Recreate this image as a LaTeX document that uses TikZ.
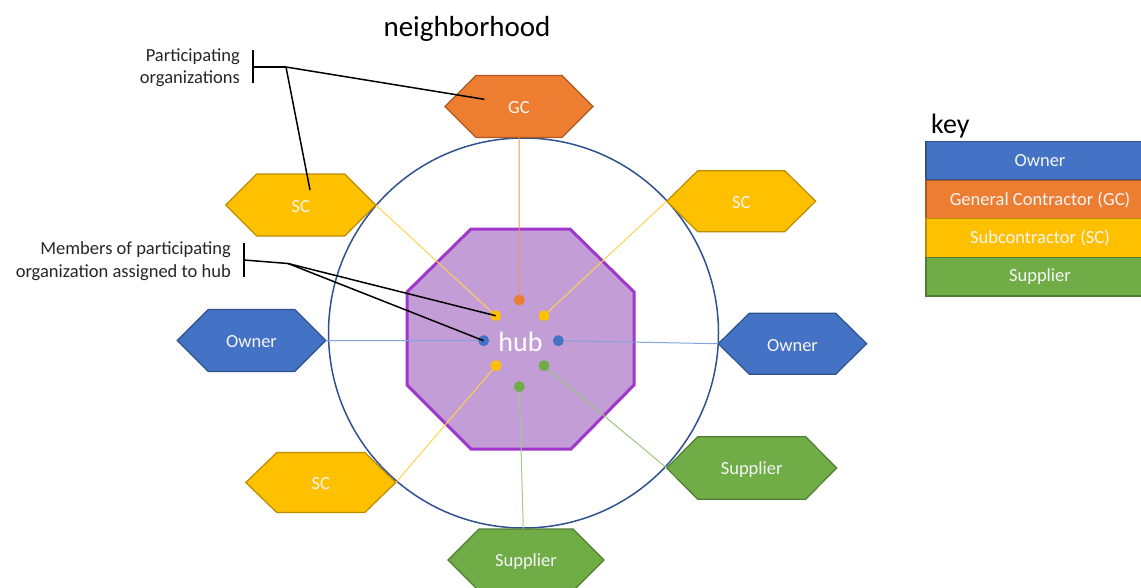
\documentclass[tikz,border=0pt]{standalone}
\usepackage{fontspec}
\setmainfont{Carlito}
\definecolor{ownerfill}{RGB}{68,114,196}
\definecolor{ownerline}{RGB}{47,82,143}
\definecolor{gcfill}{RGB}{237,125,49}
\definecolor{gcline}{RGB}{174,90,33}
\definecolor{scfill}{RGB}{255,192,0}
\definecolor{scline}{RGB}{188,140,0}
\definecolor{supfill}{RGB}{112,173,71}
\definecolor{supline}{RGB}{80,126,50}
\definecolor{hubfill}{RGB}{195,157,213}
\definecolor{hubline}{RGB}{160,55,205}
\definecolor{ringline}{RGB}{47,82,143}
\definecolor{txtwhite}{RGB}{245,245,245}
\newcommand{\hexshape}[8]{%
  \path[draw=#7, fill=#6, line width=1.2pt, line join=miter]
    ({#2-#4/2},#3) -- ({#2-#4/2+31},{#3-#5/2}) -- ({#2+#4/2-31},{#3-#5/2})
    -- ({#2+#4/2},#3) -- ({#2+#4/2-31},{#3+#5/2}) -- ({#2-#4/2+31},{#3+#5/2}) -- cycle;
  \node[hexlabel] (#1) at (#2,{#3+1.5}) {#8};
  \coordinate (#1-w) at ({#2-#4/2},#3);
  \coordinate (#1-e) at ({#2+#4/2},#3);
  \coordinate (#1-n) at (#2,{#3-#5/2});
  \coordinate (#1-s) at (#2,{#3+#5/2});
}
\begin{document}
\begin{tikzpicture}[x=1pt,y=-1pt,
  hexlabel/.style={text=txtwhite, font=\fontsize{18.5}{22}\selectfont, inner sep=0pt},
  dot/.style={circle, inner sep=0pt, minimum size=11pt},
  conn/.style={line width=1pt},
  callout/.style={draw=black, line width=1.5pt},
  keyrow/.style={rectangle, minimum width=228pt, minimum height=38.7pt, line width=1.2pt,
     text=txtwhite, font=\fontsize{18.5}{22}\selectfont, inner sep=0pt},
  note/.style={align=right, font=\fontsize{18.5}{22.5}\selectfont, text=black!85, inner sep=0pt}
]
\useasboundingbox (0,0) rectangle (1141,587);
\clip (0,0) rectangle (1141,587);

% title
\node[font=\fontsize{29}{34}\selectfont, anchor=base, inner sep=0pt] (title) at (467,36) {neighborhood};

% ring
\node[circle, draw=ringline, line width=1.5pt, minimum size=390pt, inner sep=0pt] (ring) at (523.5,333) {};

% hub octagon
\path[draw=hubline, fill=hubfill, line width=3pt, line join=miter]
  (471,229) -- (570,229) -- (634,292) -- (634,385) -- (571,449) -- (471,449) -- (407,385) -- (407,292) -- cycle;
\node[text=white, font=\fontsize{28}{32}\selectfont, inner sep=0pt] (hub) at (520.5,342) {hub};

% hexagons
\hexshape{gc}{519}{106.5}{148}{62}{gcfill}{gcline}{GC}
\hexshape{sctl}{300.8}{205}{150}{62}{scfill}{scline}{SC}
\hexshape{sctr}{741.2}{201.2}{149}{61}{scfill}{scline}{SC}
\hexshape{ownl}{251.5}{340.5}{148.4}{62}{ownerfill}{ownerline}{Owner}
\hexshape{ownr}{792.5}{343.7}{148.4}{61}{ownerfill}{ownerline}{Owner}
\hexshape{scbl}{320.8}{482.5}{150}{60}{scfill}{scline}{SC}
\hexshape{supr}{751.7}{468}{170}{62.6}{supfill}{supline}{Supplier}
\hexshape{supb}{526}{560}{156}{62}{supfill}{supline}{Supplier}

% dots
\node[dot, fill=gcfill] (dgc) at (519.3,300) {};
\node[dot, fill=scfill] (dsctl) at (495.7,315.7) {};
\node[dot, fill=scfill] (dsctr) at (544,315.7) {};
\node[dot, fill=ownerfill] (downl) at (483.7,340.7) {};
\node[dot, fill=ownerfill] (downr) at (558.3,340.7) {};
\node[dot, fill=scfill] (dscbl) at (496,365.7) {};
\node[dot, fill=supfill] (dsupr) at (544,365.7) {};
\node[dot, fill=supfill] (dsupb) at (519.3,386.7) {};

% connectors
\coordinate (supbtop) at (523.3,529);
\draw[conn, draw=gcfill!80] (gc-s) -- (dgc);
\draw[conn, draw=scfill!70] (sctl-e) -- (dsctl);
\draw[conn, draw=scfill!70] (sctr-w) -- (dsctr);
\draw[conn, draw=ownerfill!65] (ownl-e) -- (downl);
\draw[conn, draw=ownerfill!65] (ownr-w) -- (downr);
\draw[conn, draw=scfill!70] (scbl-e) -- (dscbl);
\draw[conn, draw=supfill!70] (supr-w) -- (dsupr);
\draw[conn, draw=supfill!65] (supbtop) -- (dsupb);

% key
\node[anchor=base west, font=\fontsize{28}{32}\selectfont, inner sep=0pt] (keytitle) at (931,133) {key};
\node[keyrow, fill=ownerfill, draw=ownerline] (k1) at (1040,160.6) {\raisebox{-1.5pt}{Owner}};
\node[keyrow, fill=gcfill, draw=gcline] (k2) at (1040,199.6) {\raisebox{-1.5pt}{General Contractor (GC)}};
\node[keyrow, fill=scfill, draw=scline] (k3) at (1040,238) {\raisebox{-1.5pt}{Subcontractor (SC)}};
\node[keyrow, fill=supfill, draw=supline] (k4) at (1040,276.6) {\raisebox{-1.5pt}{Supplier}};

% callout 1
\node[note, anchor=east] (po) at (240,67.5) {Participating\\organizations};
\coordinate (b1t) at (253,50);
\coordinate (b1b) at (253,83);
\coordinate (b1m) at (253,67);
\coordinate (b1j) at (286,67);
\coordinate (gcpt) at (484.3,99.3);
\coordinate (scpt) at (310,190);
\draw[callout] (b1t) -- (b1b);
\draw[callout] (b1m) -- (b1j);
\draw[callout] (b1j) -- (gcpt);
\draw[callout] (b1j) -- (scpt);

% callout 2
\node[note, anchor=east] (mem) at (231,261) {Members of participating\\organization assigned to hub};
\coordinate (b2t) at (244,243);
\coordinate (b2b) at (244,277);
\coordinate (b2m) at (244,260);
\coordinate (b2j) at (288,263.5);
\draw[callout] (b2t) -- (b2b);
\draw[callout] (b2m) -- (b2j);
\draw[callout] (b2j) -- (dsctl.center);
\draw[callout] (b2j) -- (downl.center);
\end{tikzpicture}
\end{document}
